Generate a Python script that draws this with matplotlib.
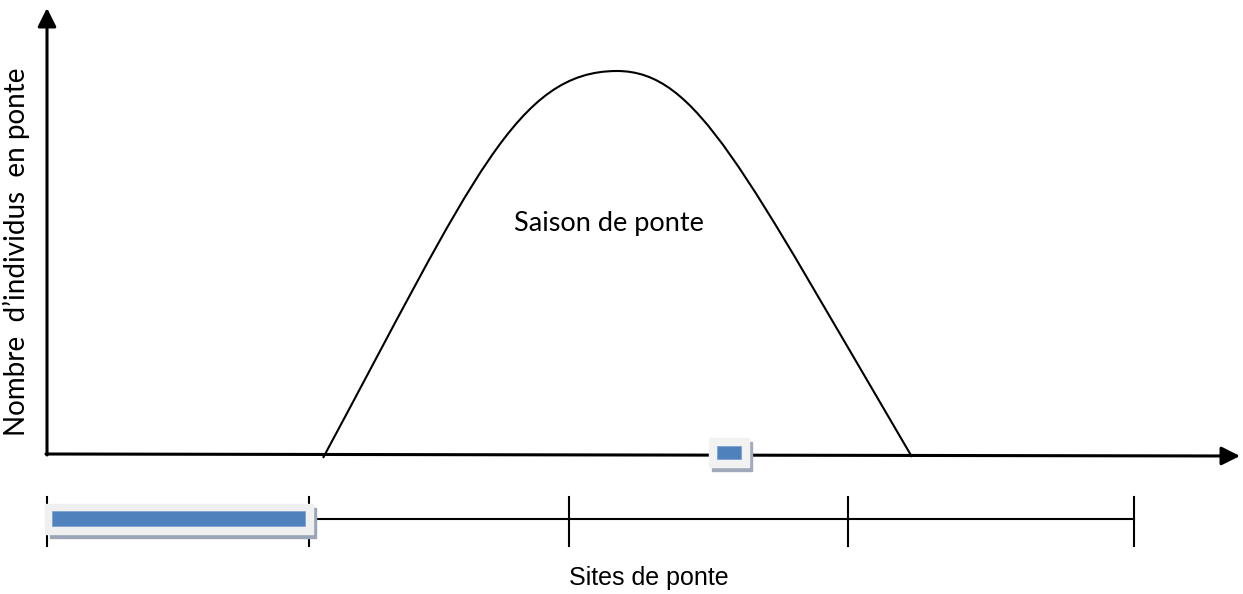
#!/usr/bin/env python3
# -*- coding: utf-8 -*-
import matplotlib
matplotlib.use('agg')
from matplotlib import pyplot as plt
from matplotlib.patches import Rectangle, PathPatch
from matplotlib.path import Path

# Saison de ponte : deux arcs de Bezier (debut -> pic -> fin), repere y vers le bas
season_x = [323, 473, 517, 617, 697, 742, 912]
season_y = [458, 179, 71, 71, 71, 168, 457]

# Limites des sites de ponte sur l'axe du bas
site_ticks = [47, 309, 569, 848, 1134]

fig = plt.figure(figsize=(12.43, 5.94), dpi=100)
ax = fig.add_axes([0, 0, 1, 1])
ax.set_xlim(0, 1243)
ax.set_ylim(594, 0)
ax.axis('off')

# axes avec fleches
arrow = dict(arrowstyle='-|>,head_length=0.8,head_width=0.4', lw=2.2,
             color='black', mutation_scale=14, shrinkA=0, shrinkB=0)
ax.annotate('', xy=(47, 8), xytext=(47, 455), arrowprops=arrow)
ax.annotate('', xy=(1240, 456), xytext=(46, 454), arrowprops=arrow)

codes = [Path.MOVETO] + [Path.CURVE4] * (len(season_x) - 1)
curve = Path(list(zip(season_x, season_y)), codes)
ax.add_patch(PathPatch(curve, facecolor='none', edgecolor='black', lw=1.5))

ax.text(609, 224, 'Saison de ponte', fontsize=19.5, family='Lato',
        ha='center', va='center')
ax.text(16, 252, 'Nombre  d\u2019individus  en ponte', fontsize=20, family='Lato',
        rotation=90, ha='center', va='center')
ax.text(649, 578, 'Sites de ponte', fontsize=18, family='Liberation Sans',
        ha='center', va='center')

# axe des sites
ax.plot([site_ticks[0], site_ticks[-1]], [519, 519], color='black', lw=1.5)
for t in site_ticks:
    ax.plot([t, t], [497, 546], color='black', lw=1.5)

# barre bleue sur le premier site
ax.add_patch(Rectangle((50, 508), 266, 30, color='#9aa5b8', zorder=3))
ax.add_patch(Rectangle((45, 504), 268, 30, color='#f0f0f0', zorder=4))
ax.add_patch(Rectangle((52, 511), 253, 15, facecolor='#4f81bd',
                       edgecolor='#7ea3d4', lw=0.6, zorder=5))

# petit repere sur l'axe horizontal
ax.add_patch(Rectangle((712, 442), 40, 29, color='#a0aabb', zorder=3))
ax.add_patch(Rectangle((709, 438), 40, 29, color='#f2f2f2', zorder=4))
ax.add_patch(Rectangle((717, 446), 24, 13, facecolor='#4f81bd',
                       edgecolor='#7ea3d4', lw=0.6, zorder=5))

plt.savefig('out.png', dpi=100)
